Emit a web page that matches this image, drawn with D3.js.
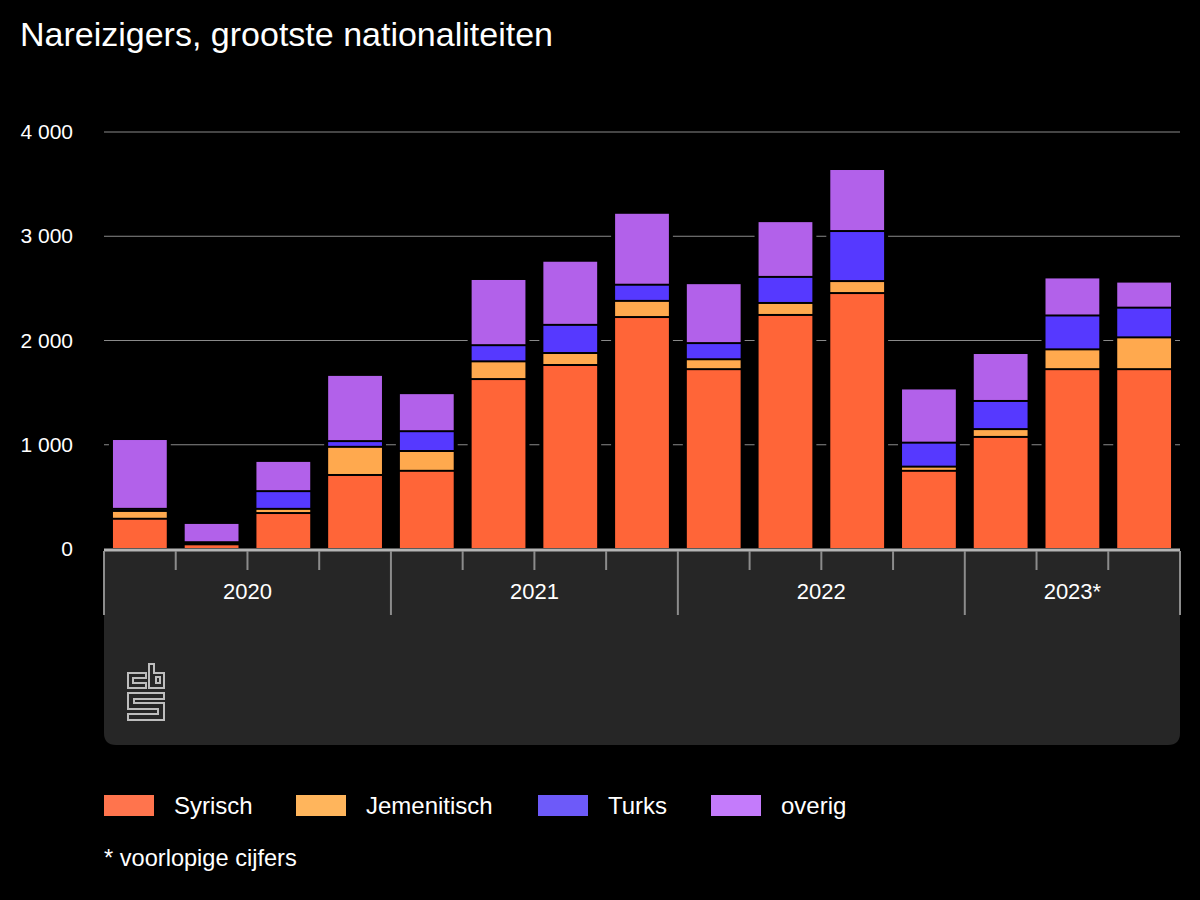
<!DOCTYPE html>
<html><head><meta charset="utf-8">
<script src="https://cdn.jsdelivr.net/npm/d3@7"></script>
<style>
html,body{margin:0;padding:0;background:#000;}
svg{display:block;font-family:"Liberation Sans",Arial,sans-serif;}
</style></head>
<body>
<svg id="chart" width="1200" height="900"></svg>
<script>
const quarters = ["2020 Q1","2020 Q2","2020 Q3","2020 Q4","2021 Q1","2021 Q2","2021 Q3","2021 Q4","2022 Q1","2022 Q2","2022 Q3","2022 Q4","2023 Q1","2023 Q2","2023 Q3"];
const years = ["2020","2021","2022","2023*"];
const quartersPerYear = [4,4,4,3];
const seriesNames = ["Syrisch","Jemenitisch","Turks","overig"];
const syrisch     = [290, 45, 345, 710, 750,1630,1765,2225,1725,2245,2455, 750,1075,1725,1725];
const jemenitisch = [ 75, 10,  40, 270, 190, 170, 115, 155,  95, 115, 115,  40,  75, 190, 305];
const turks       = [ 20, 10, 170,  55, 190, 155, 270, 155, 155, 250, 480, 230, 270, 325, 285];
const overig      = [670,185, 290, 635, 365, 635, 615, 690, 575, 535, 595, 520, 460, 365, 250];
const yTicks = [0,1000,2000,3000,4000];
const colors = ["#ff6538","#ffa94e","#5639ff","#b261ea"];
const legendColors = ["#ff744d","#ffb55c","#6d5af9","#c47bfb"];

const svg = d3.select("#chart");
const left = 104, right = 1180, y0 = 549, yTop = 132;

svg.append("text").attr("x",20).attr("y",46).attr("fill","#fff")
  .attr("font-size",34).text("Nareizigers, grootste nationaliteiten");

const x = d3.scaleBand().domain(quarters).range([left,right]).paddingInner(0.25).paddingOuter(0.125);
const y = d3.scaleLinear().domain([0,4000]).range([y0,yTop]);

// gridlines
svg.append("g").selectAll("line").data(yTicks.filter(d=>d>0)).join("line")
  .attr("x1",left).attr("x2",right).attr("y1",d=>y(d)).attr("y2",d=>y(d))
  .attr("stroke","#8a8a8a").attr("stroke-width",1);

// y labels
const fmt = d => d3.format(",")(d).replace(/,/g," ");
svg.append("g").selectAll("text").data(yTicks).join("text")
  .attr("x",73).attr("y",d=>y(d)+7).attr("text-anchor","end")
  .attr("fill","#fff").attr("font-size",21).text(fmt);

// stacked data
const rows = quarters.map((q,i)=>({q, Syrisch:syrisch[i], Jemenitisch:jemenitisch[i], Turks:turks[i], overig:overig[i]}));
const stack = d3.stack().keys(seriesNames)(rows);

// black halo behind each stack
svg.append("g").selectAll("rect").data(rows).join("rect")
  .attr("x",d=>x(d.q)-4).attr("width",x.bandwidth()+8)
  .attr("y",d=>y(d.Syrisch+d.Jemenitisch+d.Turks+d.overig)-3)
  .attr("height",d=>y0-y(d.Syrisch+d.Jemenitisch+d.Turks+d.overig)+3)
  .attr("fill","#000");

const gBars = svg.append("g");
stack.forEach((layer,k)=>{
  gBars.append("g").attr("fill",colors[k]).selectAll("rect").data(layer).join("rect")
    .attr("x",d=>x(d.data.q)).attr("width",x.bandwidth())
    .attr("y",d=>y(d[1])+1)
    .attr("height",d=>Math.max(0,y(d[0])-y(d[1])-2));
});

// axis panel
const panelTop = 550, panelBottom = 745, r = 12;
svg.append("path").attr("fill","#262626")
  .attr("d",`M${left},${panelTop} H${right} V${panelBottom-r} Q${right},${panelBottom} ${right-r},${panelBottom} H${left+r} Q${left},${panelBottom} ${left},${panelBottom-r} Z`);
svg.append("line").attr("x1",left).attr("x2",right).attr("y1",y0+1).attr("y2",y0+1)
  .attr("stroke","#b4b4b4").attr("stroke-width",3);

// ticks
const step = x.step();
const bounds = d3.range(quarters.length+1).map(i=>left + i*step);
let yearStarts = [0]; quartersPerYear.reduce((a,b)=>{yearStarts.push(a+b); return a+b;},0);
svg.append("g").selectAll("line").data(bounds.map((b,i)=>({b,i}))).join("line")
  .attr("x1",d=>d.b).attr("x2",d=>d.b).attr("y1",y0+2)
  .attr("y2",d=>yearStarts.includes(d.i)?615:570)
  .attr("stroke","#8c8c8c").attr("stroke-width",2);

// year labels
svg.append("g").selectAll("text").data(years).join("text")
  .attr("x",(d,i)=>left + (yearStarts[i]+quartersPerYear[i]/2)*step)
  .attr("y",599).attr("text-anchor","middle").attr("fill","#fff").attr("font-size",22).text(d=>d);

// cbs logo
const logo = svg.append("g").attr("fill","none").attr("stroke","#bdbdbd").attr("stroke-width",2);
logo.append("path").attr("d","M146,673 H128 V688 H146 V683 H133 V678 H146 Z");
logo.append("path").attr("d","M149,664 H154 V673 H164 V688 H149 Z");
logo.append("path").attr("d","M156,677 H160 V683 H156 Z");
logo.append("path").attr("d","M164,693 H128 V709 H158 V714 H128 V720 H164 V703 H134 V699 H164 Z");

// legend
const legendX = [104,296,538,711];
const lg = svg.append("g");
seriesNames.forEach((n,i)=>{
  lg.append("rect").attr("x",legendX[i]).attr("y",795).attr("width",50).attr("height",21).attr("fill",legendColors[i]);
  lg.append("text").attr("x",legendX[i]+70).attr("y",814).attr("fill","#fff").attr("font-size",24).text(n);
});
svg.append("text").attr("x",104).attr("y",866).attr("fill","#fff").attr("font-size",23.6).text("* voorlopige cijfers");
</script>
</body></html>
